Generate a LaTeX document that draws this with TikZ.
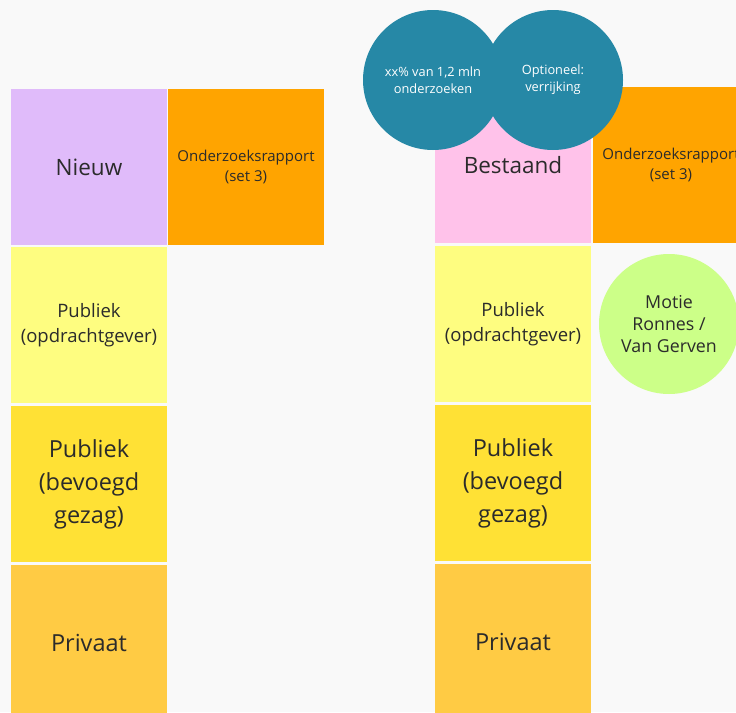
\documentclass[tikz,border=0pt]{standalone}
\usepackage{fontspec}
\setmainfont{Open Sans}
\usetikzlibrary{positioning}
\definecolor{bgc}{HTML}{F9F9F9}
\definecolor{paars}{HTML}{E0BBFA}
\definecolor{oranje}{HTML}{FFA400}
\definecolor{roze}{HTML}{FFC2EA}
\definecolor{geellicht}{HTML}{FEFD80}
\definecolor{geel}{HTML}{FFE135}
\definecolor{goud}{HTML}{FFCB44}
\definecolor{petrol}{HTML}{2688A6}
\definecolor{lichtgroen}{HTML}{CCFF88}
\definecolor{tekst}{HTML}{2B2B2B}

\begin{document}
\begin{tikzpicture}[x=1pt, y=-1pt, node distance=2pt, text=tekst,
  box/.style={inner sep=0pt, outer sep=0pt, minimum width=156pt, minimum height=156pt, align=center},
  grootschrift/.style={font=\fontsize{23.5}{33}\selectfont},
  middenschrift/.style={font=\fontsize{18.5}{25}\selectfont},
  kleinschrift/.style={font=\fontsize{15}{20}\selectfont},
  bol/.style={circle, inner sep=0pt, minimum size=140pt, align=center}]
\useasboundingbox[fill=bgc] (0,0) rectangle (736,712);
% linker kolom
\node[box, fill=paars, font=\fontsize{22.5}{24}\selectfont] (nieuw) at (89,167) {Nieuw};
\node[box, fill=oranje, kleinschrift, right=1pt of nieuw] (rapport) {Onderzoeksrapport\\(set 3)};
\node[box, fill=geellicht, middenschrift, below=2pt of nieuw] (opdracht) {Publiek\\(opdrachtgever)};
\node[box, fill=geel, grootschrift, below=3pt of opdracht] (gezag) {Publiek\\(bevoegd\\gezag)};
\node[box, fill=goud, grootschrift, below=3pt of gezag] (privaat) {Privaat};
% rechter kolom
\node[box, fill=roze, font=\fontsize{22.5}{24}\selectfont] (bestaand) at (513,165) {Bestaand};
\node[box, fill=oranje, kleinschrift, right=2pt of bestaand] (rapportb) {Onderzoeksrapport\\(set 3)};
\node[box, fill=geellicht, middenschrift, below=3pt of bestaand] (opdrachtb) {Publiek\\(opdrachtgever)};
\node[box, fill=geel, grootschrift, below=3pt of opdrachtb] (gezagb) {Publiek\\(bevoegd\\gezag)};
\node[box, fill=goud, grootschrift, below=3pt of gezagb] (privaatb) {Privaat};
% bollen
\node[bol, fill=petrol, text=white, font=\fontsize{12.8}{17}\selectfont] (aandeel) at (433,80) {xx\% van 1,2 mln\\onderzoeken};
\node[bol, fill=petrol, text=white, font=\fontsize{12.8}{17}\selectfont] (verrijking) at (553,80) {Optioneel:\\verrijking};
\node[bol, fill=lichtgroen, font=\fontsize{17.8}{22}\selectfont] (motie) at (669,324) {Motie\\Ronnes /\\Van Gerven};
\end{tikzpicture}
\end{document}
